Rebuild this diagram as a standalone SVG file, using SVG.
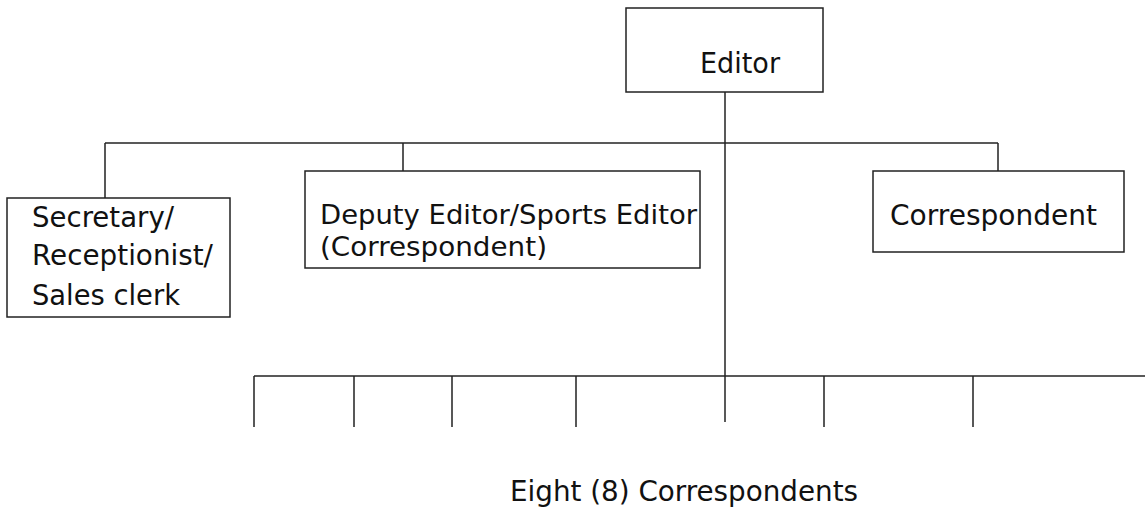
<svg xmlns="http://www.w3.org/2000/svg" width="1145" height="510" viewBox="0 0 1145 510">
<style>
.box{fill:none;stroke:#222;stroke-width:1.5}
.ln{fill:none;stroke:#222;stroke-width:1.5}
text{font-family:"DejaVu Sans",Verdana,sans-serif;font-size:29px;fill:#111}
#deputy text{font-size:27px}
</style>
<rect width="1145" height="510" fill="#fff"/>
<g id="connectors">
<path class="ln" d="M725 92V422"/>
<path class="ln" d="M105 143H998"/>
<path class="ln" d="M105 143V198M403 143V171M998 143V171"/>
<path class="ln" d="M254 376H1145"/>
<path class="ln" d="M254 376V427M354 376V427M452 376V427M576 376V427M824 376V427M973 376V427"/>
</g>
<g id="editor">
<rect class="box" x="626" y="8" width="197" height="84"/>
<text x="700" y="73" textLength="80" lengthAdjust="spacingAndGlyphs">Editor</text>
</g>
<g id="secretary">
<rect class="box" x="7" y="198" width="223" height="119"/>
<text x="32" y="227" textLength="142" lengthAdjust="spacingAndGlyphs">Secretary/</text>
<text x="32" y="265" textLength="181" lengthAdjust="spacingAndGlyphs">Receptionist/</text>
<text x="32" y="305" textLength="148" lengthAdjust="spacingAndGlyphs">Sales clerk</text>
</g>
<g id="deputy">
<rect class="box" x="305" y="171" width="395" height="97"/>
<text x="320" y="224" textLength="377" lengthAdjust="spacingAndGlyphs">Deputy Editor/Sports Editor</text>
<text x="320" y="256" textLength="227" lengthAdjust="spacingAndGlyphs">(Correspondent)</text>
</g>
<g id="correspondent">
<rect class="box" x="873" y="171" width="251" height="81"/>
<text x="890" y="225" textLength="207" lengthAdjust="spacingAndGlyphs">Correspondent</text>
</g>
<g id="eight">
<text x="510" y="501" textLength="348" lengthAdjust="spacingAndGlyphs">Eight (8) Correspondents</text>
</g>
</svg>
